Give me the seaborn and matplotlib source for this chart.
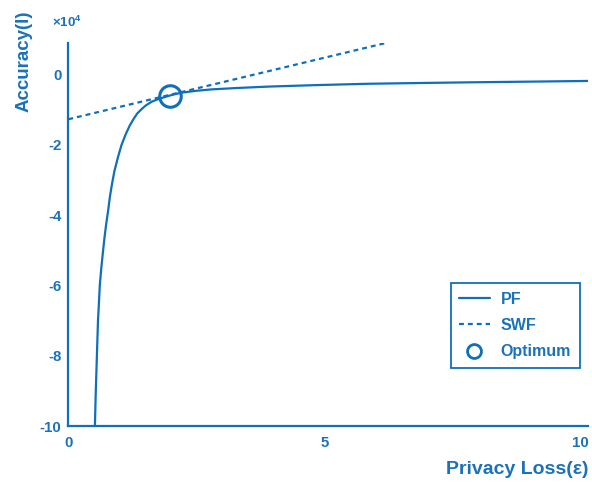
import matplotlib
matplotlib.use("Agg")
import matplotlib.pyplot as plt
import seaborn as sns
import pandas as pd

# ---- data ----
pf_x = [0.52, 0.535, 0.55, 0.565, 0.58, 0.60, 0.615, 0.645, 0.68, 0.71, 0.745,
        0.78, 0.81, 0.855, 0.90, 0.97, 1.04, 1.12, 1.20, 1.28, 1.35, 1.44,
        1.52, 1.63, 1.75, 1.86, 1.97, 2.1, 2.23, 2.5, 2.8, 3.3, 3.92, 4.8,
        5.86, 6.8, 7.8, 9.0, 10.15]
pf_y = [-10.0, -9.1, -8.4, -7.7, -7.0, -6.45, -6.0, -5.5, -5.0, -4.6, -4.2,
        -3.85, -3.5, -3.1, -2.75, -2.35, -2.0, -1.7, -1.45, -1.25, -1.1, -0.97,
        -0.87, -0.77, -0.7, -0.65, -0.6, -0.55, -0.51, -0.46, -0.42, -0.38, -0.34, -0.3,
        -0.26, -0.24, -0.22, -0.2, -0.18]
swf_x = [0.0, 6.2]
swf_y = [-1.27, 0.9]
opt_x = [1.98]
opt_y = [-0.62]
x_ticks = [0, 5, 10]
y_ticks = [0, -2, -4, -6, -8, -10]
x_label = "Privacy Loss(ε)"
y_label = "Accuracy(l)"
scale_text = r"$\times10^4$"
legend_labels = ["PF", "SWF", "Optimum"]

BLUE = "#0F6FBA"
TEXT = "#1B72B8"

sns.set_theme(style="white")
plt.rcParams["font.family"] = ["Liberation Sans", "DejaVu Sans"]
plt.rcParams["axes.unicode_minus"] = False
plt.rcParams["mathtext.fontset"] = "custom"
plt.rcParams["mathtext.rm"] = "Liberation Sans:bold"
plt.rcParams["mathtext.it"] = "Liberation Sans:bold"

fig = plt.figure(figsize=(5.92, 4.86), dpi=100)
ax = fig.add_axes([68.3 / 592, 1 - 426 / 486, (588 - 68.3) / 592, (426 - 43) / 486])

pf = pd.DataFrame({"x": pf_x, "y": pf_y})
swf = pd.DataFrame({"x": swf_x, "y": swf_y})
opt = pd.DataFrame({"x": opt_x, "y": opt_y})

sns.lineplot(data=pf, x="x", y="y", ax=ax, color=BLUE, lw=1.6, sort=False,
             label=legend_labels[0])
sns.lineplot(data=swf, x="x", y="y", ax=ax, color=BLUE, lw=1.6,
             linestyle=(0, (2.2, 1.8)), label=legend_labels[1])
ax.plot(opt["x"], opt["y"], linestyle="none", marker="o", markersize=15.5,
        markerfacecolor="none", markeredgecolor=BLUE, markeredgewidth=2.2,
        label=legend_labels[2], zorder=5)

ax.set_xlim(0, 10.15)
ax.set_ylim(-10, 0.9)
ax.set_xticks(x_ticks)
ax.set_yticks(y_ticks)
ax.set_xticklabels([str(t) for t in x_ticks], fontweight="bold")
ax.set_yticklabels([str(t) for t in y_ticks], fontweight="bold")

for side in ["top", "right"]:
    ax.spines[side].set_visible(False)
for side in ["left", "bottom"]:
    ax.spines[side].set_color(BLUE)
    ax.spines[side].set_linewidth(1.6)

ax.tick_params(axis="both", direction="in", length=9.5, width=1.2,
               color="#6FA6D6", labelcolor=TEXT, labelsize=10.8)
ax.tick_params(axis="y", pad=5)
ax.tick_params(axis="x", pad=7.5)

ax.set_xlabel(x_label, color=TEXT, fontsize=14, fontweight="bold",
              ha="right", va="center")
ax.xaxis.set_label_coords(588 / 592, 1 - 469 / 486, transform=fig.transFigure)
ax.set_ylabel(y_label, color=TEXT, fontsize=13.5, fontweight="bold",
              ha="right", va="center")
ax.yaxis.set_label_coords(24.5 / 592, 1 - 10 / 486, transform=fig.transFigure)

fig.text(52 / 592, 1 - 22 / 486, scale_text, color=TEXT, fontsize=9.5,
         ha="left", va="center")

leg = ax.legend(loc="lower right",
                bbox_to_anchor=((580 - 68.3) / (588 - 68.3), (426 - 368) / (426 - 43)),
                frameon=True, fancybox=False, framealpha=1, edgecolor=BLUE,
                prop={"size": 11.5, "weight": "bold"}, handlelength=1.9,
                labelspacing=0.7, borderpad=0.55, handletextpad=0.7,
                borderaxespad=0)
leg.get_frame().set_linewidth(1.3)
for t in leg.get_texts():
    t.set_color(TEXT)
for h in leg.legend_handles:
    try:
        h.set_markersize(10)
        h.set_markeredgewidth(2.0)
    except Exception:
        pass

fig.savefig("out.png", dpi=100)
